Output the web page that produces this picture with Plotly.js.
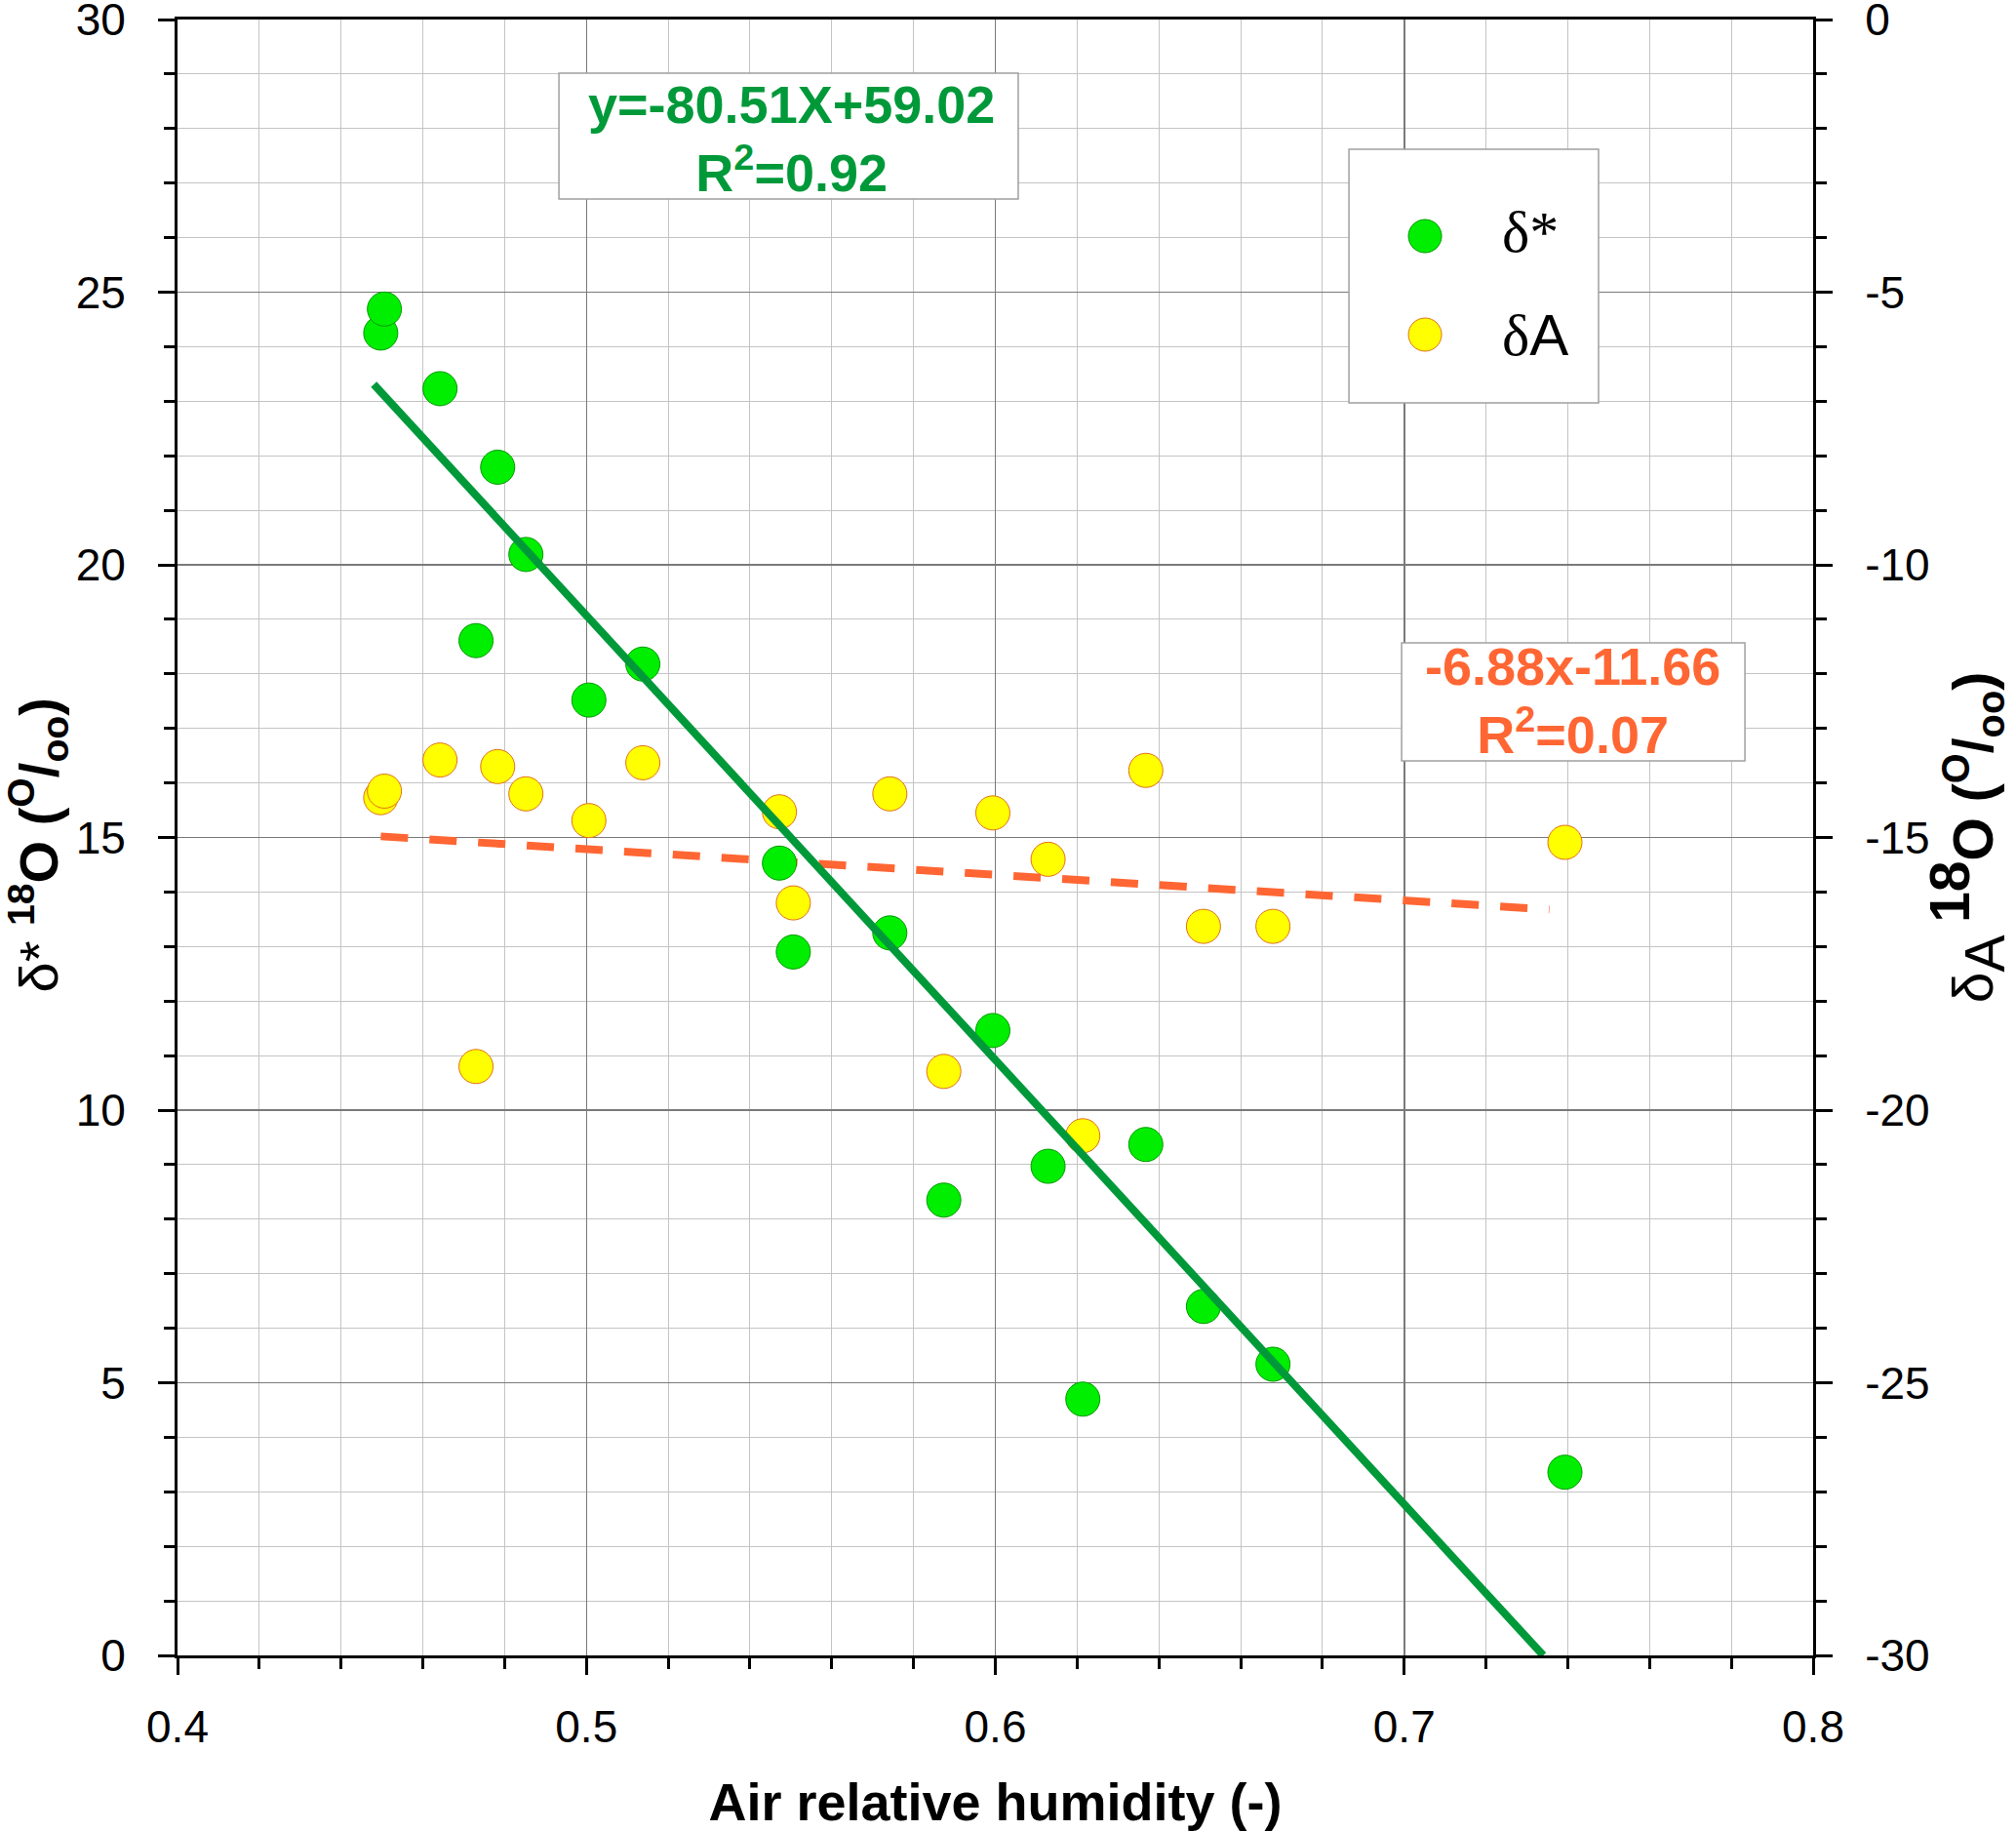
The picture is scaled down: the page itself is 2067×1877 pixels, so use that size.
<!DOCTYPE html>
<html>
<head>
<meta charset="utf-8">
<script src="https://cdn.plot.ly/plotly-3.0.1.min.js"></script>
<style>
  body { margin: 0; background: #fff; }
  #chart { width: 2067px; height: 1877px; }
</style>
</head>
<body>
<div id="chart"></div>
<script>
// Air relative humidity for each sample (shared by both series)
const humidity = [0.4497, 0.4506, 0.4642, 0.4783, 0.4852, 0.4730, 0.5006, 0.5138, 0.5472, 0.5506,
                  0.5742, 0.5994, 0.5874, 0.6129, 0.6368, 0.6214, 0.6509, 0.6679, 0.7393];

// delta* 18O (left axis)
const deltaStar = [24.25, 24.69, 23.23, 21.79, 20.19, 18.61, 17.52, 18.18, 14.53, 12.90,
                   13.25, 11.46, 8.35, 8.97, 9.37, 4.70, 6.40, 5.34, 3.36];

// delta A 18O (right axis)
const deltaA = [-14.27, -14.15, -13.58, -13.70, -14.20, -19.20, -14.69, -13.63, -14.53, -16.20,
                -14.20, -14.55, -19.29, -15.40, -13.77, -20.47, -16.63, -16.63, -15.09];

// regression lines, end points as drawn
const fitStarX = [0.448, 0.734];
const fitStarY = [23.31, 0];
const fitAX = [0.4497, 0.7355];
const fitAY = [-14.98, -16.32];

// tick labels
const xTicks = [0.4, 0.5, 0.6, 0.7, 0.8];
const xTickText = ['0.4', '0.5', '0.6', '0.7', '0.8'];
const leftTicks = [0, 5, 10, 15, 20, 25, 30];
const leftTickText = ['0', '5', '10', '15', '20', '25', '30'];
const rightTicks = [-30, -25, -20, -15, -10, -5, 0];
const rightTickText = ['-30', '-25', '-20', '-15', '-10', '-5', '0'];

const legendLabels = ['δ*', 'δA'];

const GREEN_FILL = '#00ee00';
const GREEN_EDGE = '#009900';
const YELLOW_FILL = '#ffff00';
const YELLOW_EDGE = '#e0701a';
const FIT_GREEN = '#00993a';
const FIT_ORANGE = '#ff6633';
const SANS = 'Arial, "Liberation Sans", sans-serif';

// yaxis (base layer) carries the right-hand δA scale, yaxis2 the left δ* scale,
// so the δ* markers and their fit line are drawn on top as in the original
var starPts = {
  x: humidity, y: deltaStar, yaxis: 'y2',
  mode: 'markers', name: 'δ*',
  marker: { size: 35, color: GREEN_FILL, line: { color: GREEN_EDGE, width: 1 } }
};
var starFit = {
  x: fitStarX, y: fitStarY, yaxis: 'y2',
  mode: 'lines', hoverinfo: 'skip',
  line: { color: FIT_GREEN, width: 8 }
};
var aPts = {
  x: humidity, y: deltaA, yaxis: 'y',
  mode: 'markers', name: 'δA',
  marker: { size: 35, color: YELLOW_FILL, line: { color: YELLOW_EDGE, width: 1 } }
};
var aFit = {
  x: fitAX, y: fitAY, yaxis: 'y',
  mode: 'lines', hoverinfo: 'skip',
  line: { color: FIT_ORANGE, width: 8, dash: '28px,22px' }
};

var tickCommon = {
  ticks: 'outside', ticklen: 17, tickwidth: 3, tickcolor: '#000',
  showline: true, linewidth: 3, linecolor: '#000',
  zeroline: false,
  ticklabeloverflow: 'allow',
  tickfont: { family: SANS, size: 46, color: '#000' }
};

// right title: full-size "A" lowered and full-size "18" raised, as in the original
var rightTitle = 'δ<sub><span style="font-size:57px">A</span></sub> ' +
  '<b><sup><span style="font-size:57px">18</span></sup>O (<sup>O</sup>/<sub>oo</sub>)</b>';
var leftTitle = 'δ* <b><sup>18</sup>O (<sup>O</sup>/<sub>oo</sub>)</b>&nbsp;';

var layout = {
  width: 2067, height: 1877,
  margin: { l: 182, r: 208, t: 20, b: 180 },
  paper_bgcolor: '#fff', plot_bgcolor: '#fff',
  showlegend: false,
  font: { family: SANS, color: '#000' },

  xaxis: Object.assign({}, tickCommon, {
    range: [0.4, 0.8],
    tickmode: 'array', tickvals: xTicks, ticktext: xTickText,
    mirror: true,
    showgrid: true, gridcolor: '#7a7a7a', gridwidth: 1.5,
    ticklabelstandoff: 14,
    minor: { dtick: 0.02, tick0: 0.4, ticks: 'outside', ticklen: 11, tickwidth: 3, tickcolor: '#000',
             showgrid: true, gridcolor: '#c4c4c4', gridwidth: 1 },
    title: { text: 'Air relative humidity (-)', standoff: 38,
             font: { family: SANS, size: 54, weight: 'bold', color: '#000' } }
  }),

  yaxis: Object.assign({}, tickCommon, {
    side: 'right',
    range: [-30, 0],
    tickmode: 'array', tickvals: rightTicks, ticktext: rightTickText,
    showgrid: true, gridcolor: '#7a7a7a', gridwidth: 1.5,
    ticklabelstandoff: 24,
    minor: { dtick: 1, tick0: 0, ticks: 'outside', ticklen: 11, tickwidth: 3, tickcolor: '#000',
             showgrid: true, gridcolor: '#c4c4c4', gridwidth: 1 },
    title: { text: rightTitle, standoff: 24,
             font: { family: SANS, size: 57, color: '#000' } }
  }),

  yaxis2: Object.assign({}, tickCommon, {
    overlaying: 'y', side: 'left',
    range: [0, 30],
    tickmode: 'array', tickvals: leftTicks, ticktext: leftTickText,
    showgrid: false,
    ticklabelstandoff: 24,
    minor: { dtick: 1, tick0: 0, ticks: 'outside', ticklen: 11, tickwidth: 3, tickcolor: '#000',
             showgrid: false },
    title: { text: leftTitle, standoff: 0,
             font: { family: SANS, size: 56, color: '#000' } }
  }),

  shapes: [
    // equation boxes
    { type: 'rect', xref: 'paper', yref: 'paper', x0: 0.2332, x1: 0.5140, y0: 0.8903, y1: 0.9672,
      fillcolor: '#fff', line: { color: '#a0a0a0', width: 1.5 }, layer: 'above' },
    { type: 'rect', xref: 'paper', yref: 'paper', x0: 0.7484, x1: 0.9583, y0: 0.5468, y1: 0.6190,
      fillcolor: '#fff', line: { color: '#a0a0a0', width: 1.5 }, layer: 'above' },
    // legend box and its symbols
    { type: 'rect', xref: 'paper', yref: 'paper', x0: 0.7162, x1: 0.8688, y0: 0.7657, y1: 0.9207,
      fillcolor: '#fff', line: { color: '#a0a0a0', width: 1.5 }, layer: 'above' },
    { type: 'circle', xref: 'paper', yref: 'paper', xsizemode: 'pixel', ysizemode: 'pixel',
      xanchor: 0.7627, yanchor: 0.8676, x0: -17, x1: 17, y0: -17, y1: 17,
      fillcolor: GREEN_FILL, line: { color: GREEN_EDGE, width: 1 }, layer: 'above' },
    { type: 'circle', xref: 'paper', yref: 'paper', xsizemode: 'pixel', ysizemode: 'pixel',
      xanchor: 0.7627, yanchor: 0.8074, x0: -17, x1: 17, y0: -17, y1: 17,
      fillcolor: YELLOW_FILL, line: { color: YELLOW_EDGE, width: 1 }, layer: 'above' }
  ],

  annotations: [
    { xref: 'paper', yref: 'paper', x: 0.3751, y: 0.9275, xanchor: 'center', yanchor: 'middle',
      showarrow: false, align: 'center',
      text: '<b>y=-80.51X+59.02<br>R<sup>2</sup>=0.92</b>',
      font: { family: SANS, size: 54, color: FIT_GREEN } },
    { xref: 'paper', yref: 'paper', x: 0.8533, y: 0.5840, xanchor: 'center', yanchor: 'middle',
      showarrow: false, align: 'center',
      text: '<b>-6.88x-11.66<br>R<sup>2</sup>=0.07</b>',
      font: { family: SANS, size: 54, color: FIT_ORANGE } },
    { xref: 'paper', yref: 'paper', x: 0.8086, y: 0.8700, xanchor: 'left', yanchor: 'middle',
      showarrow: false,
      text: '<span style="font-family:\'Liberation Serif\', serif">' + legendLabels[0] + '</span>',
      font: { family: SANS, size: 60, color: '#000' } },
    { xref: 'paper', yref: 'paper', x: 0.8086, y: 0.8070, xanchor: 'left', yanchor: 'middle',
      showarrow: false,
      text: '<span style="font-family:\'Liberation Serif\', serif">δ</span>A',
      font: { family: SANS, size: 60, color: '#000' } }
  ]
};

Plotly.newPlot('chart', [aPts, aFit, starPts, starFit], layout, { staticPlot: true });
</script>
</body>
</html>
